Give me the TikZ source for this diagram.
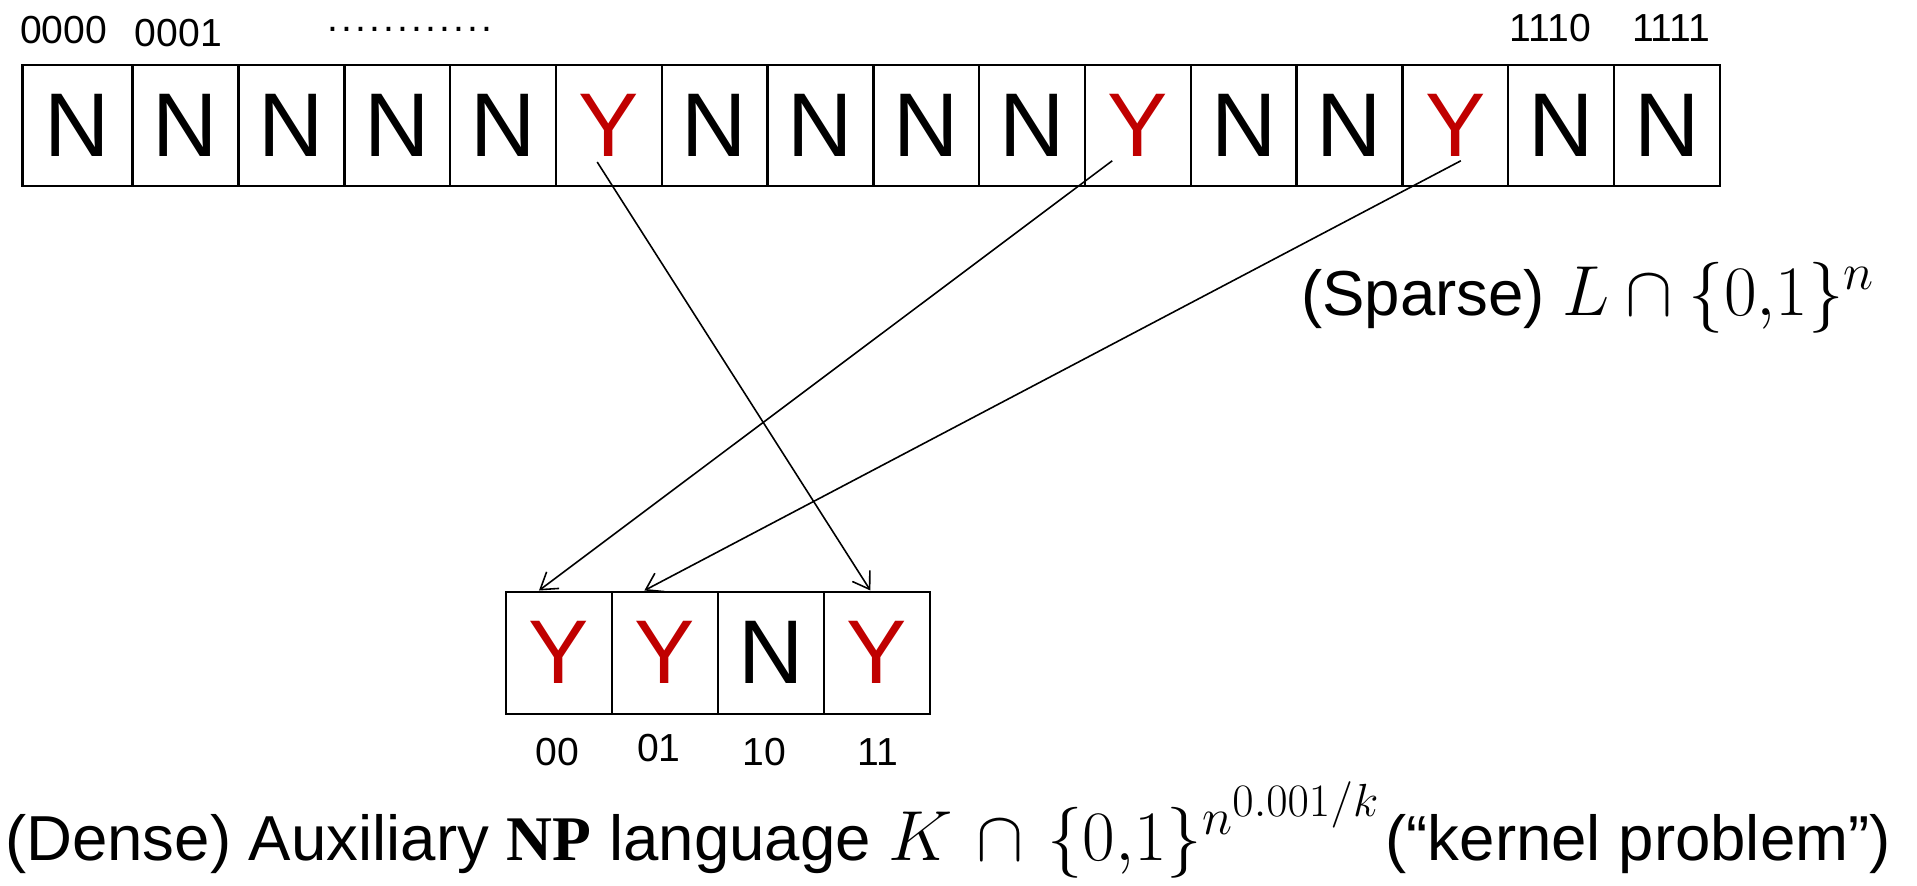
\RequirePackage{fix-cm}
\documentclass[tikz,border=0pt]{standalone}
\usepackage[no-math]{fontspec}
\setmainfont{Liberation Sans}
\newfontfamily\npfont{Liberation Serif}
\usetikzlibrary{arrows.meta,calc}
\definecolor{yred}{HTML}{C00000}
% captions are set at 52pt; their formulas use a slightly larger math size
\DeclareMathSizes{52}{58}{42}{38}
\tikzset{
  cell/.style={draw, line width=2pt, minimum height=99pt, inner sep=0pt,
    font=\fontsize{74}{80}\selectfont},
  letterN/.style={text=black},
  letterY/.style={text=yred},
  idx/.style={inner sep=0pt, font=\fontsize{32}{36}\selectfont},
  lbl/.style={inner sep=0pt, anchor=base west, font=\fontsize{52}{60}\selectfont},
  link/.style={line width=1.3pt, -{Straight Barb[length=13pt,width=17pt]}},
}
\begin{document}
\begin{tikzpicture}[x=1pt,y=-1pt]
\useasboundingbox (0,0) rectangle (1568,724);

% sparse row: one cell per string of length n
\node[cell, minimum width=90pt, letterN] (t1) at (63.5,102.5) {N};
\foreach \i/\c in {2/N,3/N,4/N,5/N,6/Y,7/N,8/N,9/N,10/N,11/Y,12/N,13/N,14/Y,15/N,16/N}
  \node[cell, minimum width=86.55pt, letter\c] (t\i) at ({108.5+(\i-2)*86.55+43.275},102.5) {\c};

% dense row
\foreach \i/\c in {1/Y,2/Y,3/N,4/Y}
  \node[cell, minimum width=86.7pt, minimum height=100pt, letter\c] (b\i) at ({414+43.35+(\i-1)*86.7},534) {\c};

% string indices
\node[idx] (l0000) at (52,24.5) {0000};
\node[idx] (l0001) at (146,27.3) {0001};
\node[idx, font=\fontsize{32}{36}\selectfont\addfontfeatures{LetterSpace=8}] (ldots) at (335,24) {............};
\node[idx] (l1110) at (1268,23) {1110};
\node[idx] (l1111) at (1367,23) {1111};

\node[idx] (l00) at (456,614.7) {00};
\node[idx] (l01) at (539,611.8) {01};
\node[idx] (l10) at (625,615) {10};
\node[idx] (l11) at (718,615) {11};

% captions
\node[lbl] (sparse) at (1064,258) {(Sparse) $L\cap\{0{,}1\}^{n}$};
\node[lbl] (dense) at (4,704) {(Dense) Auxiliary {\npfont\bfseries NP} language
  $K\mkern2mu\cap\mkern2mu\{0{,}1\}^{n^{0.001/k}}$\hspace{5pt}(“kernel problem”)};

% mapping of the yes-instances
\coordinate (s6) at ($(t6.center)+(-9.5,30)$);
\coordinate (s11) at ($(t11.center)+(-21,29)$);
\coordinate (s14) at ($(t14.center)+(4.5,29)$);
\coordinate (e1) at ($(b1.north)+(-16.5,0)$);
\coordinate (e2) at ($(b2.north)+(-17,0)$);
\coordinate (e4) at ($(b4.north)+(-5.5,0)$);
\draw[link] (s6) -- (e4);
\draw[link] (s11) -- (e1);
\draw[link] (s14) -- (e2);
\end{tikzpicture}
\end{document}
